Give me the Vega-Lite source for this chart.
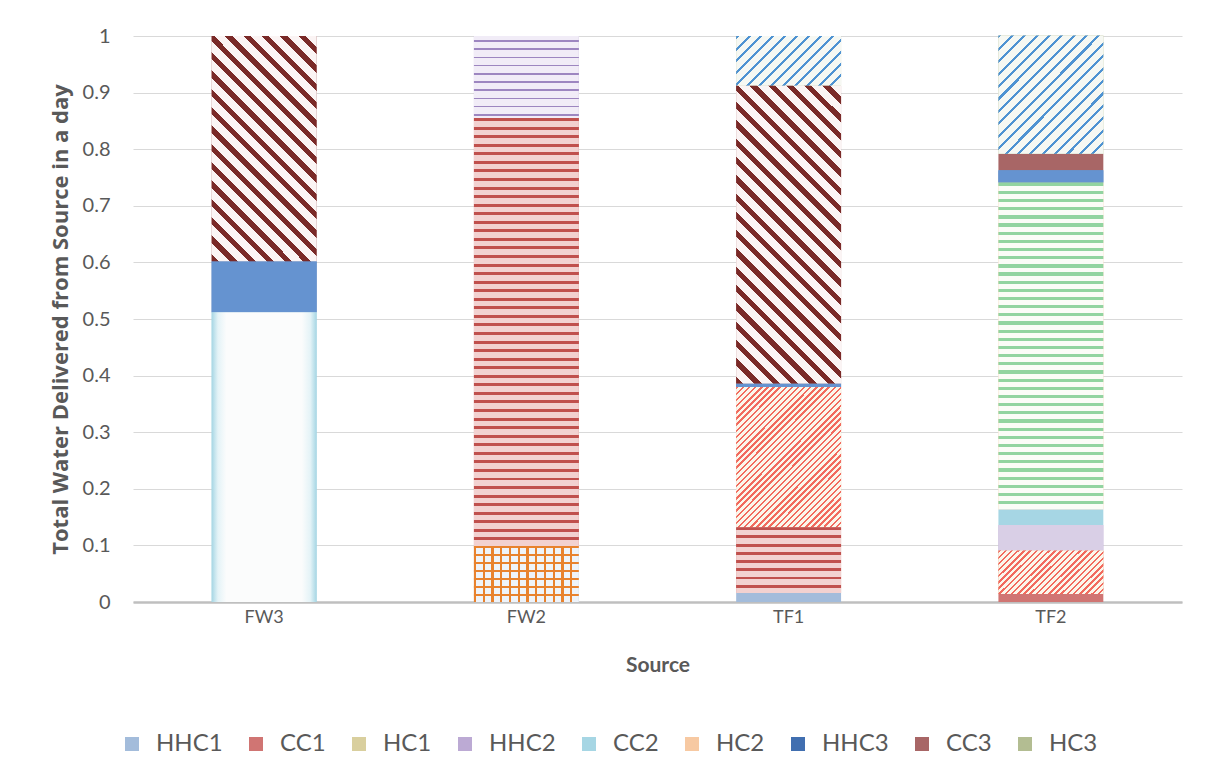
{
  "$schema": "https://vega.github.io/schema/vega-lite/v6.json",
  "autosize": "none",
  "width": 1049,
  "height": 566,
  "padding": {"left": 133, "top": 36, "right": 27, "bottom": 181},
  "background": "white",
  "config": {
    "font": "Lato",
    "view": {"stroke": null},
    "axis": {"labelColor": "#595959", "titleColor": "#595959"},
    "bar": {"stroke": null}
  },
  "data": {
    "values": [
      {"source": "FW3", "series": "CC2", "ord": 5, "value": 0.512},
      {"source": "FW3", "series": "HHC3", "ord": 7, "value": 0.090},
      {"source": "FW3", "series": "CC3", "ord": 8, "value": 0.398},
      {"source": "FW2", "series": "HHC1", "ord": 1, "value": 0.099},
      {"source": "FW2", "series": "CC1", "ord": 2, "value": 0.756},
      {"source": "FW2", "series": "HHC2", "ord": 4, "value": 0.145},
      {"source": "TF1", "series": "HHC1", "ord": 1, "value": 0.016},
      {"source": "TF1", "series": "CC1", "ord": 2, "value": 0.116},
      {"source": "TF1", "series": "HC1", "ord": 3, "value": 0.248},
      {"source": "TF1", "series": "HHC3", "ord": 7, "value": 0.006},
      {"source": "TF1", "series": "CC3", "ord": 8, "value": 0.526},
      {"source": "TF1", "series": "HC3", "ord": 9, "value": 0.088},
      {"source": "TF2", "series": "CC1", "ord": 2, "value": 0.014},
      {"source": "TF2", "series": "HC1", "ord": 3, "value": 0.077},
      {"source": "TF2", "series": "HHC2", "ord": 4, "value": 0.045},
      {"source": "TF2", "series": "CC2", "ord": 5, "value": 0.028},
      {"source": "TF2", "series": "HC2", "ord": 6, "value": 0.577},
      {"source": "TF2", "series": "HHC3", "ord": 7, "value": 0.022},
      {"source": "TF2", "series": "CC3", "ord": 8, "value": 0.029},
      {"source": "TF2", "series": "HC3", "ord": 9, "value": 0.209}
    ]
  },
  "transform": [
    {"stack": "value", "groupby": ["source"], "sort": [{"field": "ord", "order": "ascending"}], "as": ["v0", "v1"]}
  ],
  "encoding": {
    "x": {
      "field": "source",
      "type": "nominal",
      "sort": ["FW3", "FW2", "TF1", "TF2"],
      "scale": {"paddingInner": 0.6, "paddingOuter": 0.3},
      "axis": {
        "title": "Source",
        "titleFontSize": 21,
        "titleFontWeight": "bold",
        "titlePadding": 28,
        "labelAngle": 0,
        "labelFontSize": 18,
        "labelPadding": 6,
        "ticks": false,
        "domainColor": "#bfbfbf",
        "domainWidth": 2.5
      }
    },
    "y": {
      "field": "v1",
      "type": "quantitative",
      "scale": {"domain": [0, 1], "nice": false},
      "axis": {
        "title": "Total Water Delivered from Source in a day",
        "titleFont": "Open Sans",
        "titleFontSize": 22,
        "titleFontWeight": "bold",
        "titlePadding": 10,
        "values": [0, 0.1, 0.2, 0.3, 0.4, 0.5, 0.6, 0.7, 0.8, 0.9, 1],
        "format": "~g",
        "labelFontSize": 20,
        "labelPadding": 23,
        "labelOverlap": false,
        "ticks": false,
        "domain": false,
        "gridColor": "#d9d9d9",
        "gridWidth": 1.2
      }
    },
    "y2": {"field": "v0"}
  },
  "layer": [
    {
      "mark": {"type": "bar"},
      "encoding": {
        "color": {
          "field": "series",
          "type": "nominal",
          "scale": {
            "domain": ["HHC1", "CC1", "HC1", "HHC2", "CC2", "HC2", "HHC3", "CC3", "HC3"],
            "range": ["#a3bcdb", "#d07573", "#d9cf9e", "#bcaad4", "#a6d6e4", "#f7c9a2", "#416fb0", "#a86666", "#b3bd92"]
          },
          "legend": {
            "title": null,
            "orient": "none",
            "direction": "horizontal",
            "legendX": -13,
            "legendY": 696,
            "symbolType": "square",
            "symbolSize": 196,
            "symbolStrokeWidth": 0,
            "labelFontSize": 24,
            "labelColor": "#595959",
            "columnPadding": 21,
            "labelOffset": 12
          }
        }
      }
    },
    {
      "transform": [{"filter": "datum.series === 'HC1'"}],
      "mark": {"type": "bar", "fill": "#f2b0a2"}
    },
    {
      "transform": [{"filter": "datum.series === 'HHC3'"}],
      "mark": {"type": "bar", "fill": "#6593d0"}
    },
    {
      "transform": [{"filter": "datum.series === 'HHC2' && datum.source === 'TF2'"}],
      "mark": {"type": "bar", "fill": "#d9cfe6"}
    },
    {
      "transform": [{"filter": "datum.series === 'CC2' && datum.source === 'FW3'"}],
      "mark": {"type": "bar", "fill": {"gradient": "linear", "x1": 0, "y1": 0, "x2": 1, "y2": 0, "stops": [
        {"offset": 0, "color": "#a6d6e4"}, {"offset": 0.06, "color": "#e4f3f7"}, {"offset": 0.14, "color": "#fbfcfc"},
        {"offset": 0.86, "color": "#fbfcfc"}, {"offset": 0.94, "color": "#e4f3f7"}, {"offset": 1, "color": "#a6d6e4"}]}}
    },
    {
      "transform": [{"filter": "datum.series === 'HC3' && datum.source === 'TF2'"}],
      "mark": {"type": "bar", "fill": {"gradient": "linear", "x1": 0, "y1": 0, "x2": 0.9385, "y2": 1.0548, "stops": [
        {"offset": 0, "color": "#4f93d2"}, {"offset": 0.0139, "color": "#4f93d2"}, {"offset": 0.0139, "color": "#f6f8f3"}, {"offset": 0.0556, "color": "#f6f8f3"},
        {"offset": 0.0556, "color": "#4f93d2"}, {"offset": 0.0694, "color": "#4f93d2"}, {"offset": 0.0694, "color": "#f6f8f3"}, {"offset": 0.1111, "color": "#f6f8f3"},
        {"offset": 0.1111, "color": "#4f93d2"}, {"offset": 0.125, "color": "#4f93d2"}, {"offset": 0.125, "color": "#f6f8f3"}, {"offset": 0.1667, "color": "#f6f8f3"},
        {"offset": 0.1667, "color": "#4f93d2"}, {"offset": 0.1806, "color": "#4f93d2"}, {"offset": 0.1806, "color": "#f6f8f3"}, {"offset": 0.2222, "color": "#f6f8f3"},
        {"offset": 0.2222, "color": "#4f93d2"}, {"offset": 0.2361, "color": "#4f93d2"}, {"offset": 0.2361, "color": "#f6f8f3"}, {"offset": 0.2778, "color": "#f6f8f3"},
        {"offset": 0.2778, "color": "#4f93d2"}, {"offset": 0.2917, "color": "#4f93d2"}, {"offset": 0.2917, "color": "#f6f8f3"}, {"offset": 0.3333, "color": "#f6f8f3"},
        {"offset": 0.3333, "color": "#4f93d2"}, {"offset": 0.3472, "color": "#4f93d2"}, {"offset": 0.3472, "color": "#f6f8f3"}, {"offset": 0.3889, "color": "#f6f8f3"},
        {"offset": 0.3889, "color": "#4f93d2"}, {"offset": 0.4028, "color": "#4f93d2"}, {"offset": 0.4028, "color": "#f6f8f3"}, {"offset": 0.4444, "color": "#f6f8f3"},
        {"offset": 0.4444, "color": "#4f93d2"}, {"offset": 0.4583, "color": "#4f93d2"}, {"offset": 0.4583, "color": "#f6f8f3"}, {"offset": 0.5, "color": "#f6f8f3"},
        {"offset": 0.5, "color": "#4f93d2"}, {"offset": 0.5139, "color": "#4f93d2"}, {"offset": 0.5139, "color": "#f6f8f3"}, {"offset": 0.5556, "color": "#f6f8f3"},
        {"offset": 0.5556, "color": "#4f93d2"}, {"offset": 0.5694, "color": "#4f93d2"}, {"offset": 0.5694, "color": "#f6f8f3"}, {"offset": 0.6111, "color": "#f6f8f3"},
        {"offset": 0.6111, "color": "#4f93d2"}, {"offset": 0.625, "color": "#4f93d2"}, {"offset": 0.625, "color": "#f6f8f3"}, {"offset": 0.6667, "color": "#f6f8f3"},
        {"offset": 0.6667, "color": "#4f93d2"}, {"offset": 0.6806, "color": "#4f93d2"}, {"offset": 0.6806, "color": "#f6f8f3"}, {"offset": 0.7222, "color": "#f6f8f3"},
        {"offset": 0.7222, "color": "#4f93d2"}, {"offset": 0.7361, "color": "#4f93d2"}, {"offset": 0.7361, "color": "#f6f8f3"}, {"offset": 0.7778, "color": "#f6f8f3"},
        {"offset": 0.7778, "color": "#4f93d2"}, {"offset": 0.7917, "color": "#4f93d2"}, {"offset": 0.7917, "color": "#f6f8f3"}, {"offset": 0.8333, "color": "#f6f8f3"},
        {"offset": 0.8333, "color": "#4f93d2"}, {"offset": 0.8472, "color": "#4f93d2"}, {"offset": 0.8472, "color": "#f6f8f3"}, {"offset": 0.8889, "color": "#f6f8f3"},
        {"offset": 0.8889, "color": "#4f93d2"}, {"offset": 0.9028, "color": "#4f93d2"}, {"offset": 0.9028, "color": "#f6f8f3"}, {"offset": 0.9444, "color": "#f6f8f3"},
        {"offset": 0.9444, "color": "#4f93d2"}, {"offset": 0.9583, "color": "#4f93d2"}, {"offset": 0.9583, "color": "#f6f8f3"}, {"offset": 1, "color": "#f6f8f3"}]}}
    },
    {
      "transform": [{"filter": "datum.series === 'HC3' && datum.source === 'TF1'"}],
      "mark": {"type": "bar", "fill": {"gradient": "linear", "x1": 0, "y1": 0, "x2": 1.203, "y2": 0.573, "stops": [
        {"offset": 0, "color": "#4f93d2"}, {"offset": 0.0192, "color": "#4f93d2"}, {"offset": 0.0192, "color": "#f6f8f3"}, {"offset": 0.0769, "color": "#f6f8f3"},
        {"offset": 0.0769, "color": "#4f93d2"}, {"offset": 0.0962, "color": "#4f93d2"}, {"offset": 0.0962, "color": "#f6f8f3"}, {"offset": 0.1538, "color": "#f6f8f3"},
        {"offset": 0.1538, "color": "#4f93d2"}, {"offset": 0.1731, "color": "#4f93d2"}, {"offset": 0.1731, "color": "#f6f8f3"}, {"offset": 0.2308, "color": "#f6f8f3"},
        {"offset": 0.2308, "color": "#4f93d2"}, {"offset": 0.25, "color": "#4f93d2"}, {"offset": 0.25, "color": "#f6f8f3"}, {"offset": 0.3077, "color": "#f6f8f3"},
        {"offset": 0.3077, "color": "#4f93d2"}, {"offset": 0.3269, "color": "#4f93d2"}, {"offset": 0.3269, "color": "#f6f8f3"}, {"offset": 0.3846, "color": "#f6f8f3"},
        {"offset": 0.3846, "color": "#4f93d2"}, {"offset": 0.4038, "color": "#4f93d2"}, {"offset": 0.4038, "color": "#f6f8f3"}, {"offset": 0.4615, "color": "#f6f8f3"},
        {"offset": 0.4615, "color": "#4f93d2"}, {"offset": 0.4808, "color": "#4f93d2"}, {"offset": 0.4808, "color": "#f6f8f3"}, {"offset": 0.5385, "color": "#f6f8f3"},
        {"offset": 0.5385, "color": "#4f93d2"}, {"offset": 0.5577, "color": "#4f93d2"}, {"offset": 0.5577, "color": "#f6f8f3"}, {"offset": 0.6154, "color": "#f6f8f3"},
        {"offset": 0.6154, "color": "#4f93d2"}, {"offset": 0.6346, "color": "#4f93d2"}, {"offset": 0.6346, "color": "#f6f8f3"}, {"offset": 0.6923, "color": "#f6f8f3"},
        {"offset": 0.6923, "color": "#4f93d2"}, {"offset": 0.7115, "color": "#4f93d2"}, {"offset": 0.7115, "color": "#f6f8f3"}, {"offset": 0.7692, "color": "#f6f8f3"},
        {"offset": 0.7692, "color": "#4f93d2"}, {"offset": 0.7885, "color": "#4f93d2"}, {"offset": 0.7885, "color": "#f6f8f3"}, {"offset": 0.8462, "color": "#f6f8f3"},
        {"offset": 0.8462, "color": "#4f93d2"}, {"offset": 0.8654, "color": "#4f93d2"}, {"offset": 0.8654, "color": "#f6f8f3"}, {"offset": 0.9231, "color": "#f6f8f3"},
        {"offset": 0.9231, "color": "#4f93d2"}, {"offset": 0.9423, "color": "#4f93d2"}, {"offset": 0.9423, "color": "#f6f8f3"}, {"offset": 1, "color": "#f6f8f3"}]}}
    },
    {
      "transform": [{"filter": "datum.series === 'HC1' && datum.source === 'TF2'"}],
      "mark": {"type": "bar", "fill": {"gradient": "linear", "x1": 0, "y1": 0, "x2": 1.207, "y2": 0.506, "stops": [
        {"offset": 0, "color": "#f26b5e"}, {"offset": 0.0167, "color": "#f26b5e"}, {"offset": 0.0167, "color": "#fbf7ec"}, {"offset": 0.0417, "color": "#fbf7ec"},
        {"offset": 0.0417, "color": "#f26b5e"}, {"offset": 0.0583, "color": "#f26b5e"}, {"offset": 0.0583, "color": "#fbf7ec"}, {"offset": 0.0833, "color": "#fbf7ec"},
        {"offset": 0.0833, "color": "#f26b5e"}, {"offset": 0.1, "color": "#f26b5e"}, {"offset": 0.1, "color": "#fbf7ec"}, {"offset": 0.125, "color": "#fbf7ec"},
        {"offset": 0.125, "color": "#f26b5e"}, {"offset": 0.1417, "color": "#f26b5e"}, {"offset": 0.1417, "color": "#fbf7ec"}, {"offset": 0.1667, "color": "#fbf7ec"},
        {"offset": 0.1667, "color": "#f26b5e"}, {"offset": 0.1833, "color": "#f26b5e"}, {"offset": 0.1833, "color": "#fbf7ec"}, {"offset": 0.2083, "color": "#fbf7ec"},
        {"offset": 0.2083, "color": "#f26b5e"}, {"offset": 0.225, "color": "#f26b5e"}, {"offset": 0.225, "color": "#fbf7ec"}, {"offset": 0.25, "color": "#fbf7ec"},
        {"offset": 0.25, "color": "#f26b5e"}, {"offset": 0.2667, "color": "#f26b5e"}, {"offset": 0.2667, "color": "#fbf7ec"}, {"offset": 0.2917, "color": "#fbf7ec"},
        {"offset": 0.2917, "color": "#f26b5e"}, {"offset": 0.3083, "color": "#f26b5e"}, {"offset": 0.3083, "color": "#fbf7ec"}, {"offset": 0.3333, "color": "#fbf7ec"},
        {"offset": 0.3333, "color": "#f26b5e"}, {"offset": 0.35, "color": "#f26b5e"}, {"offset": 0.35, "color": "#fbf7ec"}, {"offset": 0.375, "color": "#fbf7ec"},
        {"offset": 0.375, "color": "#f26b5e"}, {"offset": 0.3917, "color": "#f26b5e"}, {"offset": 0.3917, "color": "#fbf7ec"}, {"offset": 0.4167, "color": "#fbf7ec"},
        {"offset": 0.4167, "color": "#f26b5e"}, {"offset": 0.4333, "color": "#f26b5e"}, {"offset": 0.4333, "color": "#fbf7ec"}, {"offset": 0.4583, "color": "#fbf7ec"},
        {"offset": 0.4583, "color": "#f26b5e"}, {"offset": 0.475, "color": "#f26b5e"}, {"offset": 0.475, "color": "#fbf7ec"}, {"offset": 0.5, "color": "#fbf7ec"},
        {"offset": 0.5, "color": "#f26b5e"}, {"offset": 0.5167, "color": "#f26b5e"}, {"offset": 0.5167, "color": "#fbf7ec"}, {"offset": 0.5417, "color": "#fbf7ec"},
        {"offset": 0.5417, "color": "#f26b5e"}, {"offset": 0.5583, "color": "#f26b5e"}, {"offset": 0.5583, "color": "#fbf7ec"}, {"offset": 0.5833, "color": "#fbf7ec"},
        {"offset": 0.5833, "color": "#f26b5e"}, {"offset": 0.6, "color": "#f26b5e"}, {"offset": 0.6, "color": "#fbf7ec"}, {"offset": 0.625, "color": "#fbf7ec"},
        {"offset": 0.625, "color": "#f26b5e"}, {"offset": 0.6417, "color": "#f26b5e"}, {"offset": 0.6417, "color": "#fbf7ec"}, {"offset": 0.6667, "color": "#fbf7ec"},
        {"offset": 0.6667, "color": "#f26b5e"}, {"offset": 0.6833, "color": "#f26b5e"}, {"offset": 0.6833, "color": "#fbf7ec"}, {"offset": 0.7083, "color": "#fbf7ec"},
        {"offset": 0.7083, "color": "#f26b5e"}, {"offset": 0.725, "color": "#f26b5e"}, {"offset": 0.725, "color": "#fbf7ec"}, {"offset": 0.75, "color": "#fbf7ec"},
        {"offset": 0.75, "color": "#f26b5e"}, {"offset": 0.7667, "color": "#f26b5e"}, {"offset": 0.7667, "color": "#fbf7ec"}, {"offset": 0.7917, "color": "#fbf7ec"},
        {"offset": 0.7917, "color": "#f26b5e"}, {"offset": 0.8083, "color": "#f26b5e"}, {"offset": 0.8083, "color": "#fbf7ec"}, {"offset": 0.8333, "color": "#fbf7ec"},
        {"offset": 0.8333, "color": "#f26b5e"}, {"offset": 0.85, "color": "#f26b5e"}, {"offset": 0.85, "color": "#fbf7ec"}, {"offset": 0.875, "color": "#fbf7ec"},
        {"offset": 0.875, "color": "#f26b5e"}, {"offset": 0.8917, "color": "#f26b5e"}, {"offset": 0.8917, "color": "#fbf7ec"}, {"offset": 0.9167, "color": "#fbf7ec"},
        {"offset": 0.9167, "color": "#f26b5e"}, {"offset": 0.9333, "color": "#f26b5e"}, {"offset": 0.9333, "color": "#fbf7ec"}, {"offset": 0.9583, "color": "#fbf7ec"},
        {"offset": 0.9583, "color": "#f26b5e"}, {"offset": 0.975, "color": "#f26b5e"}, {"offset": 0.975, "color": "#fbf7ec"}, {"offset": 1, "color": "#fbf7ec"}]}}
    },
    {
      "transform": [{"filter": "datum.series === 'HC1' && datum.source === 'TF1'"}],
      "mark": {"type": "bar", "fill": {"gradient": "linear", "x1": 0, "y1": 0, "x2": 0.84, "y2": 1.12, "stops": [
        {"offset": 0, "color": "#f26b5e"}, {"offset": 0.01, "color": "#f26b5e"}, {"offset": 0.01, "color": "#fbf7ec"}, {"offset": 0.025, "color": "#fbf7ec"},
        {"offset": 0.025, "color": "#f26b5e"}, {"offset": 0.035, "color": "#f26b5e"}, {"offset": 0.035, "color": "#fbf7ec"}, {"offset": 0.05, "color": "#fbf7ec"},
        {"offset": 0.05, "color": "#f26b5e"}, {"offset": 0.06, "color": "#f26b5e"}, {"offset": 0.06, "color": "#fbf7ec"}, {"offset": 0.075, "color": "#fbf7ec"},
        {"offset": 0.075, "color": "#f26b5e"}, {"offset": 0.085, "color": "#f26b5e"}, {"offset": 0.085, "color": "#fbf7ec"}, {"offset": 0.1, "color": "#fbf7ec"},
        {"offset": 0.1, "color": "#f26b5e"}, {"offset": 0.11, "color": "#f26b5e"}, {"offset": 0.11, "color": "#fbf7ec"}, {"offset": 0.125, "color": "#fbf7ec"},
        {"offset": 0.125, "color": "#f26b5e"}, {"offset": 0.135, "color": "#f26b5e"}, {"offset": 0.135, "color": "#fbf7ec"}, {"offset": 0.15, "color": "#fbf7ec"},
        {"offset": 0.15, "color": "#f26b5e"}, {"offset": 0.16, "color": "#f26b5e"}, {"offset": 0.16, "color": "#fbf7ec"}, {"offset": 0.175, "color": "#fbf7ec"},
        {"offset": 0.175, "color": "#f26b5e"}, {"offset": 0.185, "color": "#f26b5e"}, {"offset": 0.185, "color": "#fbf7ec"}, {"offset": 0.2, "color": "#fbf7ec"},
        {"offset": 0.2, "color": "#f26b5e"}, {"offset": 0.21, "color": "#f26b5e"}, {"offset": 0.21, "color": "#fbf7ec"}, {"offset": 0.225, "color": "#fbf7ec"},
        {"offset": 0.225, "color": "#f26b5e"}, {"offset": 0.235, "color": "#f26b5e"}, {"offset": 0.235, "color": "#fbf7ec"}, {"offset": 0.25, "color": "#fbf7ec"},
        {"offset": 0.25, "color": "#f26b5e"}, {"offset": 0.26, "color": "#f26b5e"}, {"offset": 0.26, "color": "#fbf7ec"}, {"offset": 0.275, "color": "#fbf7ec"},
        {"offset": 0.275, "color": "#f26b5e"}, {"offset": 0.285, "color": "#f26b5e"}, {"offset": 0.285, "color": "#fbf7ec"}, {"offset": 0.3, "color": "#fbf7ec"},
        {"offset": 0.3, "color": "#f26b5e"}, {"offset": 0.31, "color": "#f26b5e"}, {"offset": 0.31, "color": "#fbf7ec"}, {"offset": 0.325, "color": "#fbf7ec"},
        {"offset": 0.325, "color": "#f26b5e"}, {"offset": 0.335, "color": "#f26b5e"}, {"offset": 0.335, "color": "#fbf7ec"}, {"offset": 0.35, "color": "#fbf7ec"},
        {"offset": 0.35, "color": "#f26b5e"}, {"offset": 0.36, "color": "#f26b5e"}, {"offset": 0.36, "color": "#fbf7ec"}, {"offset": 0.375, "color": "#fbf7ec"},
        {"offset": 0.375, "color": "#f26b5e"}, {"offset": 0.385, "color": "#f26b5e"}, {"offset": 0.385, "color": "#fbf7ec"}, {"offset": 0.4, "color": "#fbf7ec"},
        {"offset": 0.4, "color": "#f26b5e"}, {"offset": 0.41, "color": "#f26b5e"}, {"offset": 0.41, "color": "#fbf7ec"}, {"offset": 0.425, "color": "#fbf7ec"},
        {"offset": 0.425, "color": "#f26b5e"}, {"offset": 0.435, "color": "#f26b5e"}, {"offset": 0.435, "color": "#fbf7ec"}, {"offset": 0.45, "color": "#fbf7ec"},
        {"offset": 0.45, "color": "#f26b5e"}, {"offset": 0.46, "color": "#f26b5e"}, {"offset": 0.46, "color": "#fbf7ec"}, {"offset": 0.475, "color": "#fbf7ec"},
        {"offset": 0.475, "color": "#f26b5e"}, {"offset": 0.485, "color": "#f26b5e"}, {"offset": 0.485, "color": "#fbf7ec"}, {"offset": 0.5, "color": "#fbf7ec"},
        {"offset": 0.5, "color": "#f26b5e"}, {"offset": 0.51, "color": "#f26b5e"}, {"offset": 0.51, "color": "#fbf7ec"}, {"offset": 0.525, "color": "#fbf7ec"},
        {"offset": 0.525, "color": "#f26b5e"}, {"offset": 0.535, "color": "#f26b5e"}, {"offset": 0.535, "color": "#fbf7ec"}, {"offset": 0.55, "color": "#fbf7ec"},
        {"offset": 0.55, "color": "#f26b5e"}, {"offset": 0.56, "color": "#f26b5e"}, {"offset": 0.56, "color": "#fbf7ec"}, {"offset": 0.575, "color": "#fbf7ec"},
        {"offset": 0.575, "color": "#f26b5e"}, {"offset": 0.585, "color": "#f26b5e"}, {"offset": 0.585, "color": "#fbf7ec"}, {"offset": 0.6, "color": "#fbf7ec"},
        {"offset": 0.6, "color": "#f26b5e"}, {"offset": 0.61, "color": "#f26b5e"}, {"offset": 0.61, "color": "#fbf7ec"}, {"offset": 0.625, "color": "#fbf7ec"},
        {"offset": 0.625, "color": "#f26b5e"}, {"offset": 0.635, "color": "#f26b5e"}, {"offset": 0.635, "color": "#fbf7ec"}, {"offset": 0.65, "color": "#fbf7ec"},
        {"offset": 0.65, "color": "#f26b5e"}, {"offset": 0.66, "color": "#f26b5e"}, {"offset": 0.66, "color": "#fbf7ec"}, {"offset": 0.675, "color": "#fbf7ec"},
        {"offset": 0.675, "color": "#f26b5e"}, {"offset": 0.685, "color": "#f26b5e"}, {"offset": 0.685, "color": "#fbf7ec"}, {"offset": 0.7, "color": "#fbf7ec"},
        {"offset": 0.7, "color": "#f26b5e"}, {"offset": 0.71, "color": "#f26b5e"}, {"offset": 0.71, "color": "#fbf7ec"}, {"offset": 0.725, "color": "#fbf7ec"},
        {"offset": 0.725, "color": "#f26b5e"}, {"offset": 0.735, "color": "#f26b5e"}, {"offset": 0.735, "color": "#fbf7ec"}, {"offset": 0.75, "color": "#fbf7ec"},
        {"offset": 0.75, "color": "#f26b5e"}, {"offset": 0.76, "color": "#f26b5e"}, {"offset": 0.76, "color": "#fbf7ec"}, {"offset": 0.775, "color": "#fbf7ec"},
        {"offset": 0.775, "color": "#f26b5e"}, {"offset": 0.785, "color": "#f26b5e"}, {"offset": 0.785, "color": "#fbf7ec"}, {"offset": 0.8, "color": "#fbf7ec"},
        {"offset": 0.8, "color": "#f26b5e"}, {"offset": 0.81, "color": "#f26b5e"}, {"offset": 0.81, "color": "#fbf7ec"}, {"offset": 0.825, "color": "#fbf7ec"},
        {"offset": 0.825, "color": "#f26b5e"}, {"offset": 0.835, "color": "#f26b5e"}, {"offset": 0.835, "color": "#fbf7ec"}, {"offset": 0.85, "color": "#fbf7ec"},
        {"offset": 0.85, "color": "#f26b5e"}, {"offset": 0.86, "color": "#f26b5e"}, {"offset": 0.86, "color": "#fbf7ec"}, {"offset": 0.875, "color": "#fbf7ec"},
        {"offset": 0.875, "color": "#f26b5e"}, {"offset": 0.885, "color": "#f26b5e"}, {"offset": 0.885, "color": "#fbf7ec"}, {"offset": 0.9, "color": "#fbf7ec"},
        {"offset": 0.9, "color": "#f26b5e"}, {"offset": 0.91, "color": "#f26b5e"}, {"offset": 0.91, "color": "#fbf7ec"}, {"offset": 0.925, "color": "#fbf7ec"},
        {"offset": 0.925, "color": "#f26b5e"}, {"offset": 0.935, "color": "#f26b5e"}, {"offset": 0.935, "color": "#fbf7ec"}, {"offset": 0.95, "color": "#fbf7ec"},
        {"offset": 0.95, "color": "#f26b5e"}, {"offset": 0.96, "color": "#f26b5e"}, {"offset": 0.96, "color": "#fbf7ec"}, {"offset": 0.975, "color": "#fbf7ec"},
        {"offset": 0.975, "color": "#f26b5e"}, {"offset": 0.985, "color": "#f26b5e"}, {"offset": 0.985, "color": "#fbf7ec"}, {"offset": 1, "color": "#fbf7ec"}]}}
    },
    {
      "transform": [{"filter": "datum.series === 'CC3' && datum.source === 'FW3'"}],
      "mark": {"type": "bar", "fill": {"gradient": "linear", "x1": 0, "y1": 1, "x2": 0.5621, "y2": -0.2044, "stops": [
        {"offset": 0, "color": "#7a2a28"}, {"offset": 0.0222, "color": "#7a2a28"}, {"offset": 0.0222, "color": "#fbf4f4"}, {"offset": 0.0556, "color": "#fbf4f4"},
        {"offset": 0.0556, "color": "#7a2a28"}, {"offset": 0.0778, "color": "#7a2a28"}, {"offset": 0.0778, "color": "#fbf4f4"}, {"offset": 0.1111, "color": "#fbf4f4"},
        {"offset": 0.1111, "color": "#7a2a28"}, {"offset": 0.1333, "color": "#7a2a28"}, {"offset": 0.1333, "color": "#fbf4f4"}, {"offset": 0.1667, "color": "#fbf4f4"},
        {"offset": 0.1667, "color": "#7a2a28"}, {"offset": 0.1889, "color": "#7a2a28"}, {"offset": 0.1889, "color": "#fbf4f4"}, {"offset": 0.2222, "color": "#fbf4f4"},
        {"offset": 0.2222, "color": "#7a2a28"}, {"offset": 0.2444, "color": "#7a2a28"}, {"offset": 0.2444, "color": "#fbf4f4"}, {"offset": 0.2778, "color": "#fbf4f4"},
        {"offset": 0.2778, "color": "#7a2a28"}, {"offset": 0.3, "color": "#7a2a28"}, {"offset": 0.3, "color": "#fbf4f4"}, {"offset": 0.3333, "color": "#fbf4f4"},
        {"offset": 0.3333, "color": "#7a2a28"}, {"offset": 0.3556, "color": "#7a2a28"}, {"offset": 0.3556, "color": "#fbf4f4"}, {"offset": 0.3889, "color": "#fbf4f4"},
        {"offset": 0.3889, "color": "#7a2a28"}, {"offset": 0.4111, "color": "#7a2a28"}, {"offset": 0.4111, "color": "#fbf4f4"}, {"offset": 0.4444, "color": "#fbf4f4"},
        {"offset": 0.4444, "color": "#7a2a28"}, {"offset": 0.4667, "color": "#7a2a28"}, {"offset": 0.4667, "color": "#fbf4f4"}, {"offset": 0.5, "color": "#fbf4f4"},
        {"offset": 0.5, "color": "#7a2a28"}, {"offset": 0.5222, "color": "#7a2a28"}, {"offset": 0.5222, "color": "#fbf4f4"}, {"offset": 0.5556, "color": "#fbf4f4"},
        {"offset": 0.5556, "color": "#7a2a28"}, {"offset": 0.5778, "color": "#7a2a28"}, {"offset": 0.5778, "color": "#fbf4f4"}, {"offset": 0.6111, "color": "#fbf4f4"},
        {"offset": 0.6111, "color": "#7a2a28"}, {"offset": 0.6333, "color": "#7a2a28"}, {"offset": 0.6333, "color": "#fbf4f4"}, {"offset": 0.6667, "color": "#fbf4f4"},
        {"offset": 0.6667, "color": "#7a2a28"}, {"offset": 0.6889, "color": "#7a2a28"}, {"offset": 0.6889, "color": "#fbf4f4"}, {"offset": 0.7222, "color": "#fbf4f4"},
        {"offset": 0.7222, "color": "#7a2a28"}, {"offset": 0.7444, "color": "#7a2a28"}, {"offset": 0.7444, "color": "#fbf4f4"}, {"offset": 0.7778, "color": "#fbf4f4"},
        {"offset": 0.7778, "color": "#7a2a28"}, {"offset": 0.8, "color": "#7a2a28"}, {"offset": 0.8, "color": "#fbf4f4"}, {"offset": 0.8333, "color": "#fbf4f4"},
        {"offset": 0.8333, "color": "#7a2a28"}, {"offset": 0.8556, "color": "#7a2a28"}, {"offset": 0.8556, "color": "#fbf4f4"}, {"offset": 0.8889, "color": "#fbf4f4"},
        {"offset": 0.8889, "color": "#7a2a28"}, {"offset": 0.9111, "color": "#7a2a28"}, {"offset": 0.9111, "color": "#fbf4f4"}, {"offset": 0.9444, "color": "#fbf4f4"},
        {"offset": 0.9444, "color": "#7a2a28"}, {"offset": 0.9667, "color": "#7a2a28"}, {"offset": 0.9667, "color": "#fbf4f4"}, {"offset": 1, "color": "#fbf4f4"}]}}
    },
    {
      "transform": [{"filter": "datum.series === 'CC3' && datum.source === 'TF1'"}],
      "mark": {"type": "bar", "fill": {"gradient": "linear", "x1": 0, "y1": 1, "x2": 0.4238, "y2": -0.203, "stops": [
        {"offset": 0, "color": "#7a2a28"}, {"offset": 0.0182, "color": "#7a2a28"}, {"offset": 0.0182, "color": "#fbf4f4"}, {"offset": 0.0455, "color": "#fbf4f4"},
        {"offset": 0.0455, "color": "#7a2a28"}, {"offset": 0.0636, "color": "#7a2a28"}, {"offset": 0.0636, "color": "#fbf4f4"}, {"offset": 0.0909, "color": "#fbf4f4"},
        {"offset": 0.0909, "color": "#7a2a28"}, {"offset": 0.1091, "color": "#7a2a28"}, {"offset": 0.1091, "color": "#fbf4f4"}, {"offset": 0.1364, "color": "#fbf4f4"},
        {"offset": 0.1364, "color": "#7a2a28"}, {"offset": 0.1545, "color": "#7a2a28"}, {"offset": 0.1545, "color": "#fbf4f4"}, {"offset": 0.1818, "color": "#fbf4f4"},
        {"offset": 0.1818, "color": "#7a2a28"}, {"offset": 0.2, "color": "#7a2a28"}, {"offset": 0.2, "color": "#fbf4f4"}, {"offset": 0.2273, "color": "#fbf4f4"},
        {"offset": 0.2273, "color": "#7a2a28"}, {"offset": 0.2455, "color": "#7a2a28"}, {"offset": 0.2455, "color": "#fbf4f4"}, {"offset": 0.2727, "color": "#fbf4f4"},
        {"offset": 0.2727, "color": "#7a2a28"}, {"offset": 0.2909, "color": "#7a2a28"}, {"offset": 0.2909, "color": "#fbf4f4"}, {"offset": 0.3182, "color": "#fbf4f4"},
        {"offset": 0.3182, "color": "#7a2a28"}, {"offset": 0.3364, "color": "#7a2a28"}, {"offset": 0.3364, "color": "#fbf4f4"}, {"offset": 0.3636, "color": "#fbf4f4"},
        {"offset": 0.3636, "color": "#7a2a28"}, {"offset": 0.3818, "color": "#7a2a28"}, {"offset": 0.3818, "color": "#fbf4f4"}, {"offset": 0.4091, "color": "#fbf4f4"},
        {"offset": 0.4091, "color": "#7a2a28"}, {"offset": 0.4273, "color": "#7a2a28"}, {"offset": 0.4273, "color": "#fbf4f4"}, {"offset": 0.4545, "color": "#fbf4f4"},
        {"offset": 0.4545, "color": "#7a2a28"}, {"offset": 0.4727, "color": "#7a2a28"}, {"offset": 0.4727, "color": "#fbf4f4"}, {"offset": 0.5, "color": "#fbf4f4"},
        {"offset": 0.5, "color": "#7a2a28"}, {"offset": 0.5182, "color": "#7a2a28"}, {"offset": 0.5182, "color": "#fbf4f4"}, {"offset": 0.5455, "color": "#fbf4f4"},
        {"offset": 0.5455, "color": "#7a2a28"}, {"offset": 0.5636, "color": "#7a2a28"}, {"offset": 0.5636, "color": "#fbf4f4"}, {"offset": 0.5909, "color": "#fbf4f4"},
        {"offset": 0.5909, "color": "#7a2a28"}, {"offset": 0.6091, "color": "#7a2a28"}, {"offset": 0.6091, "color": "#fbf4f4"}, {"offset": 0.6364, "color": "#fbf4f4"},
        {"offset": 0.6364, "color": "#7a2a28"}, {"offset": 0.6545, "color": "#7a2a28"}, {"offset": 0.6545, "color": "#fbf4f4"}, {"offset": 0.6818, "color": "#fbf4f4"},
        {"offset": 0.6818, "color": "#7a2a28"}, {"offset": 0.7, "color": "#7a2a28"}, {"offset": 0.7, "color": "#fbf4f4"}, {"offset": 0.7273, "color": "#fbf4f4"},
        {"offset": 0.7273, "color": "#7a2a28"}, {"offset": 0.7455, "color": "#7a2a28"}, {"offset": 0.7455, "color": "#fbf4f4"}, {"offset": 0.7727, "color": "#fbf4f4"},
        {"offset": 0.7727, "color": "#7a2a28"}, {"offset": 0.7909, "color": "#7a2a28"}, {"offset": 0.7909, "color": "#fbf4f4"}, {"offset": 0.8182, "color": "#fbf4f4"},
        {"offset": 0.8182, "color": "#7a2a28"}, {"offset": 0.8364, "color": "#7a2a28"}, {"offset": 0.8364, "color": "#fbf4f4"}, {"offset": 0.8636, "color": "#fbf4f4"},
        {"offset": 0.8636, "color": "#7a2a28"}, {"offset": 0.8818, "color": "#7a2a28"}, {"offset": 0.8818, "color": "#fbf4f4"}, {"offset": 0.9091, "color": "#fbf4f4"},
        {"offset": 0.9091, "color": "#7a2a28"}, {"offset": 0.9273, "color": "#7a2a28"}, {"offset": 0.9273, "color": "#fbf4f4"}, {"offset": 0.9545, "color": "#fbf4f4"},
        {"offset": 0.9545, "color": "#7a2a28"}, {"offset": 0.9727, "color": "#7a2a28"}, {"offset": 0.9727, "color": "#fbf4f4"}, {"offset": 1, "color": "#fbf4f4"}]}}
    },
    {
      "transform": [{"filter": "datum.series === 'CC1' && datum.source === 'FW2'"}],
      "mark": {"type": "bar", "fill": {"gradient": "linear", "x1": 0, "y1": 0, "x2": 0, "y2": 1, "stops": [
        {"offset": 0, "color": "#c0504d"}, {"offset": 0.007, "color": "#c0504d"}, {"offset": 0.007, "color": "#f2d1d0"}, {"offset": 0.02, "color": "#f2d1d0"},
        {"offset": 0.02, "color": "#c0504d"}, {"offset": 0.027, "color": "#c0504d"}, {"offset": 0.027, "color": "#f2d1d0"}, {"offset": 0.04, "color": "#f2d1d0"},
        {"offset": 0.04, "color": "#c0504d"}, {"offset": 0.047, "color": "#c0504d"}, {"offset": 0.047, "color": "#f2d1d0"}, {"offset": 0.06, "color": "#f2d1d0"},
        {"offset": 0.06, "color": "#c0504d"}, {"offset": 0.067, "color": "#c0504d"}, {"offset": 0.067, "color": "#f2d1d0"}, {"offset": 0.08, "color": "#f2d1d0"},
        {"offset": 0.08, "color": "#c0504d"}, {"offset": 0.087, "color": "#c0504d"}, {"offset": 0.087, "color": "#f2d1d0"}, {"offset": 0.1, "color": "#f2d1d0"},
        {"offset": 0.1, "color": "#c0504d"}, {"offset": 0.107, "color": "#c0504d"}, {"offset": 0.107, "color": "#f2d1d0"}, {"offset": 0.12, "color": "#f2d1d0"},
        {"offset": 0.12, "color": "#c0504d"}, {"offset": 0.127, "color": "#c0504d"}, {"offset": 0.127, "color": "#f2d1d0"}, {"offset": 0.14, "color": "#f2d1d0"},
        {"offset": 0.14, "color": "#c0504d"}, {"offset": 0.147, "color": "#c0504d"}, {"offset": 0.147, "color": "#f2d1d0"}, {"offset": 0.16, "color": "#f2d1d0"},
        {"offset": 0.16, "color": "#c0504d"}, {"offset": 0.167, "color": "#c0504d"}, {"offset": 0.167, "color": "#f2d1d0"}, {"offset": 0.18, "color": "#f2d1d0"},
        {"offset": 0.18, "color": "#c0504d"}, {"offset": 0.187, "color": "#c0504d"}, {"offset": 0.187, "color": "#f2d1d0"}, {"offset": 0.2, "color": "#f2d1d0"},
        {"offset": 0.2, "color": "#c0504d"}, {"offset": 0.207, "color": "#c0504d"}, {"offset": 0.207, "color": "#f2d1d0"}, {"offset": 0.22, "color": "#f2d1d0"},
        {"offset": 0.22, "color": "#c0504d"}, {"offset": 0.227, "color": "#c0504d"}, {"offset": 0.227, "color": "#f2d1d0"}, {"offset": 0.24, "color": "#f2d1d0"},
        {"offset": 0.24, "color": "#c0504d"}, {"offset": 0.247, "color": "#c0504d"}, {"offset": 0.247, "color": "#f2d1d0"}, {"offset": 0.26, "color": "#f2d1d0"},
        {"offset": 0.26, "color": "#c0504d"}, {"offset": 0.267, "color": "#c0504d"}, {"offset": 0.267, "color": "#f2d1d0"}, {"offset": 0.28, "color": "#f2d1d0"},
        {"offset": 0.28, "color": "#c0504d"}, {"offset": 0.287, "color": "#c0504d"}, {"offset": 0.287, "color": "#f2d1d0"}, {"offset": 0.3, "color": "#f2d1d0"},
        {"offset": 0.3, "color": "#c0504d"}, {"offset": 0.307, "color": "#c0504d"}, {"offset": 0.307, "color": "#f2d1d0"}, {"offset": 0.32, "color": "#f2d1d0"},
        {"offset": 0.32, "color": "#c0504d"}, {"offset": 0.327, "color": "#c0504d"}, {"offset": 0.327, "color": "#f2d1d0"}, {"offset": 0.34, "color": "#f2d1d0"},
        {"offset": 0.34, "color": "#c0504d"}, {"offset": 0.347, "color": "#c0504d"}, {"offset": 0.347, "color": "#f2d1d0"}, {"offset": 0.36, "color": "#f2d1d0"},
        {"offset": 0.36, "color": "#c0504d"}, {"offset": 0.367, "color": "#c0504d"}, {"offset": 0.367, "color": "#f2d1d0"}, {"offset": 0.38, "color": "#f2d1d0"},
        {"offset": 0.38, "color": "#c0504d"}, {"offset": 0.387, "color": "#c0504d"}, {"offset": 0.387, "color": "#f2d1d0"}, {"offset": 0.4, "color": "#f2d1d0"},
        {"offset": 0.4, "color": "#c0504d"}, {"offset": 0.407, "color": "#c0504d"}, {"offset": 0.407, "color": "#f2d1d0"}, {"offset": 0.42, "color": "#f2d1d0"},
        {"offset": 0.42, "color": "#c0504d"}, {"offset": 0.427, "color": "#c0504d"}, {"offset": 0.427, "color": "#f2d1d0"}, {"offset": 0.44, "color": "#f2d1d0"},
        {"offset": 0.44, "color": "#c0504d"}, {"offset": 0.447, "color": "#c0504d"}, {"offset": 0.447, "color": "#f2d1d0"}, {"offset": 0.46, "color": "#f2d1d0"},
        {"offset": 0.46, "color": "#c0504d"}, {"offset": 0.467, "color": "#c0504d"}, {"offset": 0.467, "color": "#f2d1d0"}, {"offset": 0.48, "color": "#f2d1d0"},
        {"offset": 0.48, "color": "#c0504d"}, {"offset": 0.487, "color": "#c0504d"}, {"offset": 0.487, "color": "#f2d1d0"}, {"offset": 0.5, "color": "#f2d1d0"},
        {"offset": 0.5, "color": "#c0504d"}, {"offset": 0.507, "color": "#c0504d"}, {"offset": 0.507, "color": "#f2d1d0"}, {"offset": 0.52, "color": "#f2d1d0"},
        {"offset": 0.52, "color": "#c0504d"}, {"offset": 0.527, "color": "#c0504d"}, {"offset": 0.527, "color": "#f2d1d0"}, {"offset": 0.54, "color": "#f2d1d0"},
        {"offset": 0.54, "color": "#c0504d"}, {"offset": 0.547, "color": "#c0504d"}, {"offset": 0.547, "color": "#f2d1d0"}, {"offset": 0.56, "color": "#f2d1d0"},
        {"offset": 0.56, "color": "#c0504d"}, {"offset": 0.567, "color": "#c0504d"}, {"offset": 0.567, "color": "#f2d1d0"}, {"offset": 0.58, "color": "#f2d1d0"},
        {"offset": 0.58, "color": "#c0504d"}, {"offset": 0.587, "color": "#c0504d"}, {"offset": 0.587, "color": "#f2d1d0"}, {"offset": 0.6, "color": "#f2d1d0"},
        {"offset": 0.6, "color": "#c0504d"}, {"offset": 0.607, "color": "#c0504d"}, {"offset": 0.607, "color": "#f2d1d0"}, {"offset": 0.62, "color": "#f2d1d0"},
        {"offset": 0.62, "color": "#c0504d"}, {"offset": 0.627, "color": "#c0504d"}, {"offset": 0.627, "color": "#f2d1d0"}, {"offset": 0.64, "color": "#f2d1d0"},
        {"offset": 0.64, "color": "#c0504d"}, {"offset": 0.647, "color": "#c0504d"}, {"offset": 0.647, "color": "#f2d1d0"}, {"offset": 0.66, "color": "#f2d1d0"},
        {"offset": 0.66, "color": "#c0504d"}, {"offset": 0.667, "color": "#c0504d"}, {"offset": 0.667, "color": "#f2d1d0"}, {"offset": 0.68, "color": "#f2d1d0"},
        {"offset": 0.68, "color": "#c0504d"}, {"offset": 0.687, "color": "#c0504d"}, {"offset": 0.687, "color": "#f2d1d0"}, {"offset": 0.7, "color": "#f2d1d0"},
        {"offset": 0.7, "color": "#c0504d"}, {"offset": 0.707, "color": "#c0504d"}, {"offset": 0.707, "color": "#f2d1d0"}, {"offset": 0.72, "color": "#f2d1d0"},
        {"offset": 0.72, "color": "#c0504d"}, {"offset": 0.727, "color": "#c0504d"}, {"offset": 0.727, "color": "#f2d1d0"}, {"offset": 0.74, "color": "#f2d1d0"},
        {"offset": 0.74, "color": "#c0504d"}, {"offset": 0.747, "color": "#c0504d"}, {"offset": 0.747, "color": "#f2d1d0"}, {"offset": 0.76, "color": "#f2d1d0"},
        {"offset": 0.76, "color": "#c0504d"}, {"offset": 0.767, "color": "#c0504d"}, {"offset": 0.767, "color": "#f2d1d0"}, {"offset": 0.78, "color": "#f2d1d0"},
        {"offset": 0.78, "color": "#c0504d"}, {"offset": 0.787, "color": "#c0504d"}, {"offset": 0.787, "color": "#f2d1d0"}, {"offset": 0.8, "color": "#f2d1d0"},
        {"offset": 0.8, "color": "#c0504d"}, {"offset": 0.807, "color": "#c0504d"}, {"offset": 0.807, "color": "#f2d1d0"}, {"offset": 0.82, "color": "#f2d1d0"},
        {"offset": 0.82, "color": "#c0504d"}, {"offset": 0.827, "color": "#c0504d"}, {"offset": 0.827, "color": "#f2d1d0"}, {"offset": 0.84, "color": "#f2d1d0"},
        {"offset": 0.84, "color": "#c0504d"}, {"offset": 0.847, "color": "#c0504d"}, {"offset": 0.847, "color": "#f2d1d0"}, {"offset": 0.86, "color": "#f2d1d0"},
        {"offset": 0.86, "color": "#c0504d"}, {"offset": 0.867, "color": "#c0504d"}, {"offset": 0.867, "color": "#f2d1d0"}, {"offset": 0.88, "color": "#f2d1d0"},
        {"offset": 0.88, "color": "#c0504d"}, {"offset": 0.887, "color": "#c0504d"}, {"offset": 0.887, "color": "#f2d1d0"}, {"offset": 0.9, "color": "#f2d1d0"},
        {"offset": 0.9, "color": "#c0504d"}, {"offset": 0.907, "color": "#c0504d"}, {"offset": 0.907, "color": "#f2d1d0"}, {"offset": 0.92, "color": "#f2d1d0"},
        {"offset": 0.92, "color": "#c0504d"}, {"offset": 0.927, "color": "#c0504d"}, {"offset": 0.927, "color": "#f2d1d0"}, {"offset": 0.94, "color": "#f2d1d0"},
        {"offset": 0.94, "color": "#c0504d"}, {"offset": 0.947, "color": "#c0504d"}, {"offset": 0.947, "color": "#f2d1d0"}, {"offset": 0.96, "color": "#f2d1d0"},
        {"offset": 0.96, "color": "#c0504d"}, {"offset": 0.967, "color": "#c0504d"}, {"offset": 0.967, "color": "#f2d1d0"}, {"offset": 0.98, "color": "#f2d1d0"},
        {"offset": 0.98, "color": "#c0504d"}, {"offset": 0.987, "color": "#c0504d"}, {"offset": 0.987, "color": "#f2d1d0"}, {"offset": 1, "color": "#f2d1d0"}]}}
    },
    {
      "transform": [{"filter": "datum.series === 'CC1' && datum.source === 'TF1'"}],
      "mark": {"type": "bar", "fill": {"gradient": "linear", "x1": 0, "y1": 0, "x2": 0, "y2": 1, "stops": [
        {"offset": 0, "color": "#c0504d"}, {"offset": 0.0438, "color": "#c0504d"}, {"offset": 0.0438, "color": "#f2d1d0"}, {"offset": 0.125, "color": "#f2d1d0"},
        {"offset": 0.125, "color": "#c0504d"}, {"offset": 0.1688, "color": "#c0504d"}, {"offset": 0.1688, "color": "#f2d1d0"}, {"offset": 0.25, "color": "#f2d1d0"},
        {"offset": 0.25, "color": "#c0504d"}, {"offset": 0.2938, "color": "#c0504d"}, {"offset": 0.2938, "color": "#f2d1d0"}, {"offset": 0.375, "color": "#f2d1d0"},
        {"offset": 0.375, "color": "#c0504d"}, {"offset": 0.4188, "color": "#c0504d"}, {"offset": 0.4188, "color": "#f2d1d0"}, {"offset": 0.5, "color": "#f2d1d0"},
        {"offset": 0.5, "color": "#c0504d"}, {"offset": 0.5438, "color": "#c0504d"}, {"offset": 0.5438, "color": "#f2d1d0"}, {"offset": 0.625, "color": "#f2d1d0"},
        {"offset": 0.625, "color": "#c0504d"}, {"offset": 0.6688, "color": "#c0504d"}, {"offset": 0.6688, "color": "#f2d1d0"}, {"offset": 0.75, "color": "#f2d1d0"},
        {"offset": 0.75, "color": "#c0504d"}, {"offset": 0.7938, "color": "#c0504d"}, {"offset": 0.7938, "color": "#f2d1d0"}, {"offset": 0.875, "color": "#f2d1d0"},
        {"offset": 0.875, "color": "#c0504d"}, {"offset": 0.9188, "color": "#c0504d"}, {"offset": 0.9188, "color": "#f2d1d0"}, {"offset": 1, "color": "#f2d1d0"}]}}
    },
    {
      "transform": [{"filter": "datum.series === 'HC2' && datum.source === 'TF2'"}],
      "mark": {"type": "bar", "fill": {"gradient": "linear", "x1": 0, "y1": 0, "x2": 0, "y2": 1, "stops": [
        {"offset": 0, "color": "#92d4a0"}, {"offset": 0.01, "color": "#92d4a0"}, {"offset": 0.01, "color": "#fbfcf7"}, {"offset": 0.025, "color": "#fbfcf7"},
        {"offset": 0.025, "color": "#92d4a0"}, {"offset": 0.035, "color": "#92d4a0"}, {"offset": 0.035, "color": "#fbfcf7"}, {"offset": 0.05, "color": "#fbfcf7"},
        {"offset": 0.05, "color": "#92d4a0"}, {"offset": 0.06, "color": "#92d4a0"}, {"offset": 0.06, "color": "#fbfcf7"}, {"offset": 0.075, "color": "#fbfcf7"},
        {"offset": 0.075, "color": "#92d4a0"}, {"offset": 0.085, "color": "#92d4a0"}, {"offset": 0.085, "color": "#fbfcf7"}, {"offset": 0.1, "color": "#fbfcf7"},
        {"offset": 0.1, "color": "#92d4a0"}, {"offset": 0.11, "color": "#92d4a0"}, {"offset": 0.11, "color": "#fbfcf7"}, {"offset": 0.125, "color": "#fbfcf7"},
        {"offset": 0.125, "color": "#92d4a0"}, {"offset": 0.135, "color": "#92d4a0"}, {"offset": 0.135, "color": "#fbfcf7"}, {"offset": 0.15, "color": "#fbfcf7"},
        {"offset": 0.15, "color": "#92d4a0"}, {"offset": 0.16, "color": "#92d4a0"}, {"offset": 0.16, "color": "#fbfcf7"}, {"offset": 0.175, "color": "#fbfcf7"},
        {"offset": 0.175, "color": "#92d4a0"}, {"offset": 0.185, "color": "#92d4a0"}, {"offset": 0.185, "color": "#fbfcf7"}, {"offset": 0.2, "color": "#fbfcf7"},
        {"offset": 0.2, "color": "#92d4a0"}, {"offset": 0.21, "color": "#92d4a0"}, {"offset": 0.21, "color": "#fbfcf7"}, {"offset": 0.225, "color": "#fbfcf7"},
        {"offset": 0.225, "color": "#92d4a0"}, {"offset": 0.235, "color": "#92d4a0"}, {"offset": 0.235, "color": "#fbfcf7"}, {"offset": 0.25, "color": "#fbfcf7"},
        {"offset": 0.25, "color": "#92d4a0"}, {"offset": 0.26, "color": "#92d4a0"}, {"offset": 0.26, "color": "#fbfcf7"}, {"offset": 0.275, "color": "#fbfcf7"},
        {"offset": 0.275, "color": "#92d4a0"}, {"offset": 0.285, "color": "#92d4a0"}, {"offset": 0.285, "color": "#fbfcf7"}, {"offset": 0.3, "color": "#fbfcf7"},
        {"offset": 0.3, "color": "#92d4a0"}, {"offset": 0.31, "color": "#92d4a0"}, {"offset": 0.31, "color": "#fbfcf7"}, {"offset": 0.325, "color": "#fbfcf7"},
        {"offset": 0.325, "color": "#92d4a0"}, {"offset": 0.335, "color": "#92d4a0"}, {"offset": 0.335, "color": "#fbfcf7"}, {"offset": 0.35, "color": "#fbfcf7"},
        {"offset": 0.35, "color": "#92d4a0"}, {"offset": 0.36, "color": "#92d4a0"}, {"offset": 0.36, "color": "#fbfcf7"}, {"offset": 0.375, "color": "#fbfcf7"},
        {"offset": 0.375, "color": "#92d4a0"}, {"offset": 0.385, "color": "#92d4a0"}, {"offset": 0.385, "color": "#fbfcf7"}, {"offset": 0.4, "color": "#fbfcf7"},
        {"offset": 0.4, "color": "#92d4a0"}, {"offset": 0.41, "color": "#92d4a0"}, {"offset": 0.41, "color": "#fbfcf7"}, {"offset": 0.425, "color": "#fbfcf7"},
        {"offset": 0.425, "color": "#92d4a0"}, {"offset": 0.435, "color": "#92d4a0"}, {"offset": 0.435, "color": "#fbfcf7"}, {"offset": 0.45, "color": "#fbfcf7"},
        {"offset": 0.45, "color": "#92d4a0"}, {"offset": 0.46, "color": "#92d4a0"}, {"offset": 0.46, "color": "#fbfcf7"}, {"offset": 0.475, "color": "#fbfcf7"},
        {"offset": 0.475, "color": "#92d4a0"}, {"offset": 0.485, "color": "#92d4a0"}, {"offset": 0.485, "color": "#fbfcf7"}, {"offset": 0.5, "color": "#fbfcf7"},
        {"offset": 0.5, "color": "#92d4a0"}, {"offset": 0.51, "color": "#92d4a0"}, {"offset": 0.51, "color": "#fbfcf7"}, {"offset": 0.525, "color": "#fbfcf7"},
        {"offset": 0.525, "color": "#92d4a0"}, {"offset": 0.535, "color": "#92d4a0"}, {"offset": 0.535, "color": "#fbfcf7"}, {"offset": 0.55, "color": "#fbfcf7"},
        {"offset": 0.55, "color": "#92d4a0"}, {"offset": 0.56, "color": "#92d4a0"}, {"offset": 0.56, "color": "#fbfcf7"}, {"offset": 0.575, "color": "#fbfcf7"},
        {"offset": 0.575, "color": "#92d4a0"}, {"offset": 0.585, "color": "#92d4a0"}, {"offset": 0.585, "color": "#fbfcf7"}, {"offset": 0.6, "color": "#fbfcf7"},
        {"offset": 0.6, "color": "#92d4a0"}, {"offset": 0.61, "color": "#92d4a0"}, {"offset": 0.61, "color": "#fbfcf7"}, {"offset": 0.625, "color": "#fbfcf7"},
        {"offset": 0.625, "color": "#92d4a0"}, {"offset": 0.635, "color": "#92d4a0"}, {"offset": 0.635, "color": "#fbfcf7"}, {"offset": 0.65, "color": "#fbfcf7"},
        {"offset": 0.65, "color": "#92d4a0"}, {"offset": 0.66, "color": "#92d4a0"}, {"offset": 0.66, "color": "#fbfcf7"}, {"offset": 0.675, "color": "#fbfcf7"},
        {"offset": 0.675, "color": "#92d4a0"}, {"offset": 0.685, "color": "#92d4a0"}, {"offset": 0.685, "color": "#fbfcf7"}, {"offset": 0.7, "color": "#fbfcf7"},
        {"offset": 0.7, "color": "#92d4a0"}, {"offset": 0.71, "color": "#92d4a0"}, {"offset": 0.71, "color": "#fbfcf7"}, {"offset": 0.725, "color": "#fbfcf7"},
        {"offset": 0.725, "color": "#92d4a0"}, {"offset": 0.735, "color": "#92d4a0"}, {"offset": 0.735, "color": "#fbfcf7"}, {"offset": 0.75, "color": "#fbfcf7"},
        {"offset": 0.75, "color": "#92d4a0"}, {"offset": 0.76, "color": "#92d4a0"}, {"offset": 0.76, "color": "#fbfcf7"}, {"offset": 0.775, "color": "#fbfcf7"},
        {"offset": 0.775, "color": "#92d4a0"}, {"offset": 0.785, "color": "#92d4a0"}, {"offset": 0.785, "color": "#fbfcf7"}, {"offset": 0.8, "color": "#fbfcf7"},
        {"offset": 0.8, "color": "#92d4a0"}, {"offset": 0.81, "color": "#92d4a0"}, {"offset": 0.81, "color": "#fbfcf7"}, {"offset": 0.825, "color": "#fbfcf7"},
        {"offset": 0.825, "color": "#92d4a0"}, {"offset": 0.835, "color": "#92d4a0"}, {"offset": 0.835, "color": "#fbfcf7"}, {"offset": 0.85, "color": "#fbfcf7"},
        {"offset": 0.85, "color": "#92d4a0"}, {"offset": 0.86, "color": "#92d4a0"}, {"offset": 0.86, "color": "#fbfcf7"}, {"offset": 0.875, "color": "#fbfcf7"},
        {"offset": 0.875, "color": "#92d4a0"}, {"offset": 0.885, "color": "#92d4a0"}, {"offset": 0.885, "color": "#fbfcf7"}, {"offset": 0.9, "color": "#fbfcf7"},
        {"offset": 0.9, "color": "#92d4a0"}, {"offset": 0.91, "color": "#92d4a0"}, {"offset": 0.91, "color": "#fbfcf7"}, {"offset": 0.925, "color": "#fbfcf7"},
        {"offset": 0.925, "color": "#92d4a0"}, {"offset": 0.935, "color": "#92d4a0"}, {"offset": 0.935, "color": "#fbfcf7"}, {"offset": 0.95, "color": "#fbfcf7"},
        {"offset": 0.95, "color": "#92d4a0"}, {"offset": 0.96, "color": "#92d4a0"}, {"offset": 0.96, "color": "#fbfcf7"}, {"offset": 0.975, "color": "#fbfcf7"},
        {"offset": 0.975, "color": "#92d4a0"}, {"offset": 0.985, "color": "#92d4a0"}, {"offset": 0.985, "color": "#fbfcf7"}, {"offset": 1, "color": "#fbfcf7"}]}}
    },
    {
      "transform": [{"filter": "datum.series === 'HHC2' && datum.source === 'FW2'"}],
      "mark": {"type": "bar", "fill": {"gradient": "linear", "x1": 0, "y1": 0, "x2": 0, "y2": 1, "stops": [
        {"offset": 0, "color": "#f1ecf7"}, {"offset": 0.05, "color": "#f1ecf7"}, {"offset": 0.05, "color": "#9d86c0"}, {"offset": 0.07, "color": "#9d86c0"}, {"offset": 0.07, "color": "#f1ecf7"},
        {"offset": 0.15, "color": "#f1ecf7"}, {"offset": 0.15, "color": "#9d86c0"}, {"offset": 0.17, "color": "#9d86c0"}, {"offset": 0.17, "color": "#f1ecf7"},
        {"offset": 0.25, "color": "#f1ecf7"}, {"offset": 0.25, "color": "#9d86c0"}, {"offset": 0.27, "color": "#9d86c0"}, {"offset": 0.27, "color": "#f1ecf7"},
        {"offset": 0.35, "color": "#f1ecf7"}, {"offset": 0.35, "color": "#9d86c0"}, {"offset": 0.37, "color": "#9d86c0"}, {"offset": 0.37, "color": "#f1ecf7"},
        {"offset": 0.45, "color": "#f1ecf7"}, {"offset": 0.45, "color": "#9d86c0"}, {"offset": 0.47, "color": "#9d86c0"}, {"offset": 0.47, "color": "#f1ecf7"},
        {"offset": 0.55, "color": "#f1ecf7"}, {"offset": 0.55, "color": "#9d86c0"}, {"offset": 0.57, "color": "#9d86c0"}, {"offset": 0.57, "color": "#f1ecf7"},
        {"offset": 0.65, "color": "#f1ecf7"}, {"offset": 0.65, "color": "#9d86c0"}, {"offset": 0.67, "color": "#9d86c0"}, {"offset": 0.67, "color": "#f1ecf7"},
        {"offset": 0.75, "color": "#f1ecf7"}, {"offset": 0.75, "color": "#9d86c0"}, {"offset": 0.77, "color": "#9d86c0"}, {"offset": 0.77, "color": "#f1ecf7"},
        {"offset": 0.85, "color": "#f1ecf7"}, {"offset": 0.85, "color": "#9d86c0"}, {"offset": 0.87, "color": "#9d86c0"}, {"offset": 0.87, "color": "#f1ecf7"},
        {"offset": 0.95, "color": "#f1ecf7"}, {"offset": 0.95, "color": "#9d86c0"}, {"offset": 0.97, "color": "#9d86c0"}, {"offset": 0.97, "color": "#f1ecf7"},
        {"offset": 1, "color": "#f1ecf7"}]}}
    },
    {
      "transform": [{"filter": "datum.series === 'HHC1' && datum.source === 'FW2'"}],
      "mark": {"type": "bar", "fill": {"gradient": "linear", "x1": 0, "y1": 0, "x2": 1, "y2": 0, "stops": [
        {"offset": 0, "color": "#e8822e"}, {"offset": 0.0208, "color": "#e8822e"}, {"offset": 0.0208, "color": "#eef3fa"}, {"offset": 0.0833, "color": "#eef3fa"},
        {"offset": 0.0833, "color": "#e8822e"}, {"offset": 0.1042, "color": "#e8822e"}, {"offset": 0.1042, "color": "#eef3fa"}, {"offset": 0.1667, "color": "#eef3fa"},
        {"offset": 0.1667, "color": "#e8822e"}, {"offset": 0.1875, "color": "#e8822e"}, {"offset": 0.1875, "color": "#eef3fa"}, {"offset": 0.25, "color": "#eef3fa"},
        {"offset": 0.25, "color": "#e8822e"}, {"offset": 0.2708, "color": "#e8822e"}, {"offset": 0.2708, "color": "#eef3fa"}, {"offset": 0.3333, "color": "#eef3fa"},
        {"offset": 0.3333, "color": "#e8822e"}, {"offset": 0.3542, "color": "#e8822e"}, {"offset": 0.3542, "color": "#eef3fa"}, {"offset": 0.4167, "color": "#eef3fa"},
        {"offset": 0.4167, "color": "#e8822e"}, {"offset": 0.4375, "color": "#e8822e"}, {"offset": 0.4375, "color": "#eef3fa"}, {"offset": 0.5, "color": "#eef3fa"},
        {"offset": 0.5, "color": "#e8822e"}, {"offset": 0.5208, "color": "#e8822e"}, {"offset": 0.5208, "color": "#eef3fa"}, {"offset": 0.5833, "color": "#eef3fa"},
        {"offset": 0.5833, "color": "#e8822e"}, {"offset": 0.6042, "color": "#e8822e"}, {"offset": 0.6042, "color": "#eef3fa"}, {"offset": 0.6667, "color": "#eef3fa"},
        {"offset": 0.6667, "color": "#e8822e"}, {"offset": 0.6875, "color": "#e8822e"}, {"offset": 0.6875, "color": "#eef3fa"}, {"offset": 0.75, "color": "#eef3fa"},
        {"offset": 0.75, "color": "#e8822e"}, {"offset": 0.7708, "color": "#e8822e"}, {"offset": 0.7708, "color": "#eef3fa"}, {"offset": 0.8333, "color": "#eef3fa"},
        {"offset": 0.8333, "color": "#e8822e"}, {"offset": 0.8542, "color": "#e8822e"}, {"offset": 0.8542, "color": "#eef3fa"}, {"offset": 0.9167, "color": "#eef3fa"},
        {"offset": 0.9167, "color": "#e8822e"}, {"offset": 0.9375, "color": "#e8822e"}, {"offset": 0.9375, "color": "#eef3fa"}, {"offset": 1, "color": "#eef3fa"}]}}
    },
    {
      "transform": [{"filter": "datum.series === 'HHC1' && datum.source === 'FW2'"}],
      "mark": {"type": "bar", "fill": {"gradient": "linear", "x1": 0, "y1": 0, "x2": 0, "y2": 1, "stops": [
        {"offset": 0, "color": "#e8822e"}, {"offset": 0.0357, "color": "#e8822e"}, {"offset": 0.0357, "color": "transparent"}, {"offset": 0.1429, "color": "transparent"},
        {"offset": 0.1429, "color": "#e8822e"}, {"offset": 0.1786, "color": "#e8822e"}, {"offset": 0.1786, "color": "transparent"}, {"offset": 0.2857, "color": "transparent"},
        {"offset": 0.2857, "color": "#e8822e"}, {"offset": 0.3214, "color": "#e8822e"}, {"offset": 0.3214, "color": "transparent"}, {"offset": 0.4286, "color": "transparent"},
        {"offset": 0.4286, "color": "#e8822e"}, {"offset": 0.4643, "color": "#e8822e"}, {"offset": 0.4643, "color": "transparent"}, {"offset": 0.5714, "color": "transparent"},
        {"offset": 0.5714, "color": "#e8822e"}, {"offset": 0.6071, "color": "#e8822e"}, {"offset": 0.6071, "color": "transparent"}, {"offset": 0.7143, "color": "transparent"},
        {"offset": 0.7143, "color": "#e8822e"}, {"offset": 0.75, "color": "#e8822e"}, {"offset": 0.75, "color": "transparent"}, {"offset": 0.8571, "color": "transparent"},
        {"offset": 0.8571, "color": "#e8822e"}, {"offset": 0.8929, "color": "#e8822e"}, {"offset": 0.8929, "color": "transparent"}, {"offset": 1, "color": "transparent"}]}}
    }
  ]
}
